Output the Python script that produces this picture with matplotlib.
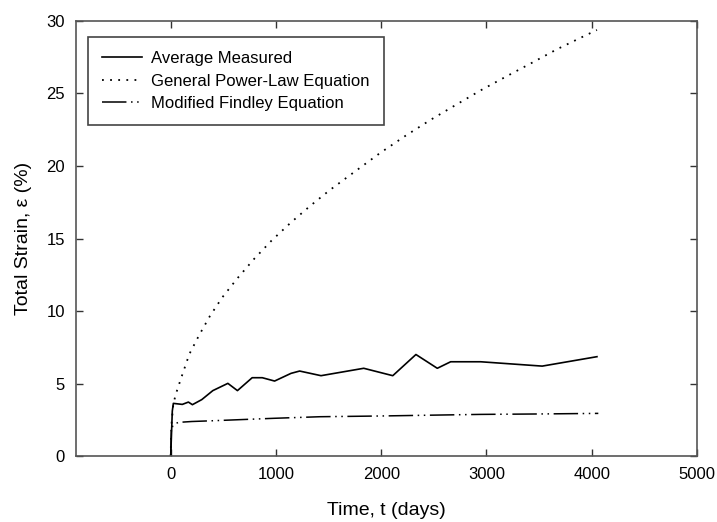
import matplotlib
matplotlib.use("Agg")
import matplotlib.pyplot as plt

plt.rcParams["font.family"] = ["Liberation Sans", "DejaVu Sans"]

# values
measured_t = [0, 15, 25, 110, 168, 206, 295, 400, 543, 634, 774, 870, 987,
              1143, 1225, 1428, 1834, 2110, 2330, 2533, 2660, 2945, 3530, 4050]
measured_e = [0, 3.1, 3.63, 3.56, 3.72, 3.54, 3.89, 4.51, 5.01, 4.51, 5.40,
              5.40, 5.17, 5.70, 5.86, 5.54, 6.05, 5.54, 7.0, 6.05, 6.5, 6.5,
              6.2, 6.85]

power_t = [0, 5, 25, 50, 95, 177, 269, 373, 490, 633, 792, 960, 1143, 1324,
           1508, 1629, 1990, 2228, 2466, 2713, 2951, 3195, 3433, 3670, 3917,
           4050]
power_e = [0, 2.0, 3.6, 4.3, 5.29, 7.03, 8.32, 9.66, 10.94, 12.25, 13.59,
           14.87, 16.11, 17.24, 18.32, 18.97, 20.9, 22.07, 23.17, 24.23, 25.24,
           26.2, 27.12, 28.05, 28.92, 29.38]

findley_t = [0, 5, 20, 50, 73, 200, 390, 700, 977, 1420, 1990, 2500, 2940,
             3500, 4063]
findley_e = [0, 1.7, 2.1, 2.25, 2.32, 2.38, 2.43, 2.52, 2.6, 2.71, 2.76, 2.82,
             2.87, 2.9, 2.94]

x_ticks = [0, 1000, 2000, 3000, 4000, 5000]
y_ticks = [0, 5, 10, 15, 20, 25, 30]

fig = plt.figure(figsize=(7.17, 5.22), dpi=100)
ax = fig.add_axes([0.106, 0.1264, 0.866, 0.8334])

ax.plot(measured_t, measured_e, color="black", lw=1.2, label="Average Measured")
ax.plot(power_t, power_e, color="black", lw=1.3, dashes=(1, 3.5),
        label="General Power-Law Equation")
ax.plot(findley_t, findley_e, color="black", lw=1.1,
        dashes=(16, 3, 1, 3, 1, 3), label="Modified Findley Equation")

ax.set_xlim(-900, 5000)
ax.set_ylim(0, 30)
ax.set_xticks(x_ticks)
ax.set_yticks(y_ticks)
ax.tick_params(direction="in", length=5, width=1, top=True, right=True,
               labelsize=12, pad=8, color="#333333")
for s in ax.spines.values():
    s.set_color("#555555")
    s.set_linewidth(1.2)

ax.set_xlabel("Time, t (days)", fontsize=14, labelpad=14)
ax.set_ylabel("Total Strain, \u03b5 (%)", fontsize=14, labelpad=10)

leg = ax.legend(loc="upper left", bbox_to_anchor=(0.0193, 0.963),
                borderaxespad=0, fontsize=12, handlelength=2.4,
                handletextpad=0.55, labelspacing=0.45, borderpad=0.85,
                fancybox=False, framealpha=1)
leg.get_frame().set_edgecolor("#444444")
leg.get_frame().set_linewidth(1.2)

fig.savefig("out.png", dpi=100)
